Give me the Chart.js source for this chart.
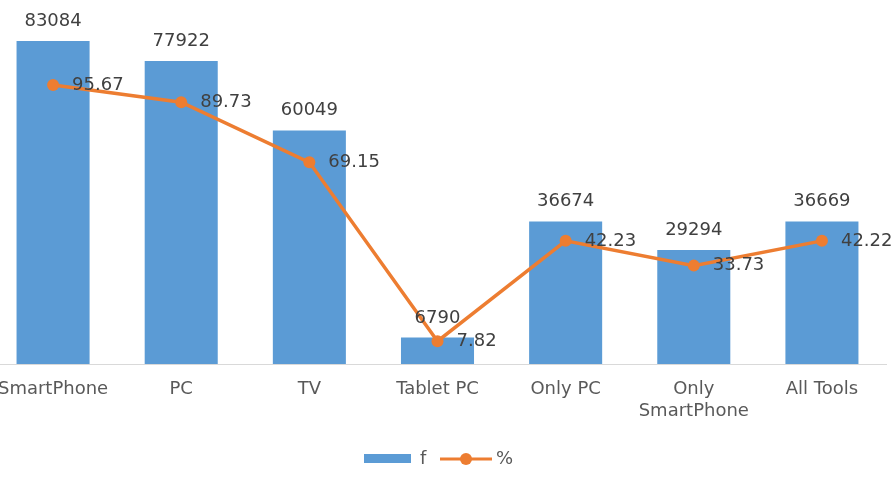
<!DOCTYPE html>
<html>
<head>
<meta charset="utf-8">
<script src="https://cdn.jsdelivr.net/npm/chart.js@4"></script>
<style>
  html, body { margin: 0; padding: 0; background: #fff; overflow: hidden; }
  #wrap { position: absolute; left: -17px; top: 0; width: 913px; height: 478px; }
</style>
</head>
<body>
<div id="wrap"><canvas id="myChart" width="913" height="478"></canvas></div>
<script>
let categories = ['SmartPhone', 'PC', 'TV', 'Tablet PC', 'Only PC', ['Only', 'SmartPhone'], 'All Tools']
let counts = [83084, 77922, 60049, 6790, 36674, 29294, 36669]
let percents = [95.67, 89.73, 69.15, 7.82, 42.23, 33.73, 42.22]
let countMax = 90000
let percentMax = 120

let labelPlugin = {
    id: 'valueLabels',
    afterDatasetsDraw(chart) {
        let ctx = chart.ctx
        ctx.save()
        ctx.font = '18px "DejaVu Sans"'
        ctx.fillStyle = '#404040'
        // bar labels above bars
        chart.getDatasetMeta(1).data.forEach(function (bar, i) {
            ctx.textAlign = 'center'
            ctx.textBaseline = 'alphabetic'
            ctx.fillText(String(counts[i]), bar.x, bar.y - 15)
        })
        // line labels right of points
        chart.getDatasetMeta(0).data.forEach(function (pt, i) {
            ctx.textAlign = 'left'
            ctx.textBaseline = 'middle'
            ctx.fillText(percents[i].toFixed(2), pt.x + 19, pt.y)
        })
        ctx.restore()
    },
    afterDraw(chart) {
        // legend at the bottom
        let ctx = chart.ctx
        let off = 17
        ctx.save()
        ctx.fillStyle = '#5B9BD5'
        ctx.fillRect(364 + off, 454, 47, 9)
        ctx.strokeStyle = '#ED7D31'
        ctx.lineWidth = 3
        ctx.beginPath()
        ctx.moveTo(440 + off, 459)
        ctx.lineTo(492 + off, 459)
        ctx.stroke()
        ctx.fillStyle = '#ED7D31'
        ctx.beginPath()
        ctx.arc(466 + off, 459, 6, 0, Math.PI * 2)
        ctx.fill()
        ctx.font = '18px "DejaVu Sans"'
        ctx.fillStyle = '#595959'
        ctx.textAlign = 'left'
        ctx.textBaseline = 'middle'
        ctx.fillText('f', 420 + off, 459)
        ctx.fillText('%', 496 + off, 459)
        ctx.restore()
    }
}

let chart = new Chart(document.getElementById('myChart').getContext('2d'), {
    type: 'bar',
    data: {
        labels: categories,
        datasets: [{
            type: 'line',
            label: '%',
            data: percents,
            yAxisID: 'y2',
            borderColor: '#ED7D31',
            backgroundColor: '#ED7D31',
            borderWidth: 3.5,
            pointRadius: 6,
            pointBackgroundColor: '#ED7D31',
            pointBorderWidth: 0,
            tension: 0,
            order: 0
        }, {
            type: 'bar',
            label: 'f',
            data: counts,
            yAxisID: 'y',
            backgroundColor: '#5B9BD5',
            categoryPercentage: 1,
            barPercentage: 0.57,
            order: 1
        }]
    },
    options: {
        responsive: false,
        animation: false,
        devicePixelRatio: 1,
        layout: { padding: { left: 2, right: 10, top: 14, bottom: 0 } },
        plugins: { legend: { display: false }, tooltip: { enabled: false } },
        scales: {
            x: {
                grid: { display: false, drawTicks: false },
                border: { display: true, color: '#d9d9d9', width: 1 },
                ticks: {
                    color: '#595959',
                    padding: 14,
                    font: { family: 'DejaVu Sans', size: 18, lineHeight: 1.25 },
                    maxRotation: 0,
                    autoSkip: false
                },
                afterFit: function (scale) { scale.height = 114 }
            },
            y: { display: false, min: 0, max: countMax },
            y2: { display: false, min: 0, max: percentMax, position: 'right' }
        }
    },
    plugins: [labelPlugin]
})
</script>
</body>
</html>
